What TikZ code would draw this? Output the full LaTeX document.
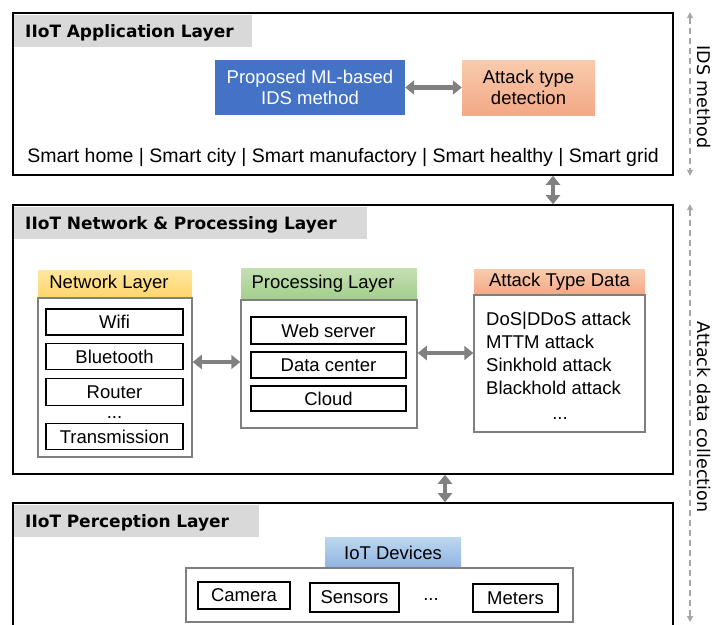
\documentclass[tikz,border=0pt]{standalone}
\usepackage{fontspec}
\setmainfont{Liberation Sans}
\newfontfamily\dejavu{DejaVu Sans}
\usetikzlibrary{arrows.meta}
\definecolor{lblgray}{HTML}{D9D9D9}
\definecolor{arrgray}{HTML}{808080}
\definecolor{dashgray}{HTML}{A6A6A6}
\definecolor{colgray}{HTML}{7F7F7F}
\definecolor{idsblue}{HTML}{4472C4}
\definecolor{salmontop}{HTML}{F8CBAD}
\definecolor{salmonbot}{HTML}{F4A886}
\definecolor{yeltop}{HTML}{FFE6A0}
\definecolor{yelbot}{HTML}{FFD56A}
\definecolor{grntop}{HTML}{C5E0B4}
\definecolor{grnbot}{HTML}{A2CD8A}
\definecolor{bluetop}{HTML}{BDD7EE}
\definecolor{bluebot}{HTML}{8FB4E3}
\tikzset{
  txt/.style={font=\fontsize{18.5}{21}\selectfont},
  layerbox/.style={draw=black, line width=1.6pt, inner sep=0pt},
  layerlbl/.style={fill=lblgray, anchor=north west, inner sep=0pt, text depth=0pt,
    font=\dejavu\fontsize{17}{20}\selectfont\bfseries, align=left, minimum height=32pt},
  colbody/.style={draw=colgray, line width=1.5pt, fill=white, inner sep=0pt},
  colhead/.style={inner sep=0pt, txt},
  itembox/.style={draw=black, line width=1.8pt, fill=white, inner sep=0pt, txt},
  bigarrow/.style={draw=arrgray, line width=4.5pt,
    {Triangle[length=9pt,width=14pt]}-{Triangle[length=9pt,width=14pt]}},
  dasharrow/.style={draw=dashgray, line width=1.3pt, dash pattern=on 6pt off 4pt,
    {Triangle[length=6pt,width=6pt]}-{Triangle[length=6pt,width=6pt]}},
  sidelbl/.style={font=\dejavu\fontsize{17.5}{20}\selectfont, rotate=-90, inner sep=0pt},
  dots/.style={txt, inner sep=0pt, anchor=base},
}
\begin{document}
\begin{tikzpicture}[x=1pt,y=-1pt]
\clip (0,0) rectangle (714,624);
\fill[white] (0,0) rectangle (714,624);

% ---------- Application layer
\node[layerbox, minimum width=660pt, minimum height=162pt] (app) at (343,94) {};
\node[layerlbl, minimum width=238pt, text width=232pt] (applbl) at (14,15) {\hspace*{8pt}IIoT Application Layer};
\node[fill=idsblue, text=white, txt, align=center, minimum width=190pt, minimum height=55pt, inner sep=0pt] (ids) at (310,87.5) {Proposed ML-based\\IDS method};
\node[top color=salmontop, bottom color=salmonbot, txt, align=center, minimum width=133pt, minimum height=55pt, inner sep=0pt] (atd) at (528.5,87.5) {Attack type\\detection};
\draw[bigarrow] (ids.east) -- (atd.west);
\node[txt, font=\fontsize{19.5}{22}\selectfont] (smart) at (343,157) {Smart home | Smart city | Smart manufactory | Smart healthy | Smart grid};

% ---------- Network & processing layer
\node[layerbox, minimum width=660pt, minimum height=269pt] (net) at (343,339.5) {};
\node[layerlbl, minimum width=353pt, text width=347pt] (netlbl) at (14,207) {\hspace*{8pt}IIoT Network \& Processing Layer};

\coordinate (c1) at (553,190);
\draw[bigarrow] (app.south -| c1) -- (net.north -| c1);

% Network layer column
\node[top color=yeltop, bottom color=yelbot, colhead, minimum width=154pt, minimum height=28pt] (nlh) at (115,284) {\hspace*{-12pt}Network Layer};
\node[colbody, minimum width=154pt, minimum height=159pt] (nlb) at (115,377.5) {};
\node[itembox, minimum width=137pt, minimum height=26pt] (wifi) at (114.5,322) {Wifi};
\node[itembox, minimum width=137pt, minimum height=26pt] (bt) at (114.5,356.5) {Bluetooth};
\node[itembox, minimum width=137pt, minimum height=27pt] (router) at (114.5,392) {Router};
\node[dots] (ndots) at (114.5,418) {...};
\node[itembox, minimum width=137pt, minimum height=26pt] (trans) at (114.5,436.5) {Transmission};

% Processing layer column
\node[top color=grntop, bottom color=grnbot, colhead, minimum width=176pt, minimum height=32pt] (plh) at (329,284) {\hspace*{-12pt}Processing Layer};
\node[colbody, minimum width=176pt, minimum height=128pt] (plb) at (329,364) {};
\node[itembox, minimum width=155pt, minimum height=27pt] (web) at (328.5,330.5) {Web server};
\node[itembox, minimum width=155pt, minimum height=26pt] (dc) at (328.5,365) {Data center};
\node[itembox, minimum width=155pt, minimum height=25pt] (cloud) at (328.5,398.5) {Cloud};

% Attack type data column
\node[top color=salmontop, bottom color=salmonbot, colhead, minimum width=171pt, minimum height=26pt] (ath) at (559.5,282) {Attack Type Data};
\node[colbody, minimum width=171pt, minimum height=137pt] (atb) at (559.5,363.5) {};
\node[align=left, anchor=west, inner sep=0pt, font=\fontsize{18.5}{23}\selectfont] (attxt) at (486,353.5) {DoS|DDoS attack\\MTTM attack\\Sinkhold attack\\Blackhold attack};
\node[dots] (adots) at (560,419) {...};

\coordinate (c2) at (200,362);
\coordinate (c3) at (430,353);
\draw[bigarrow] (nlb.east |- c2) -- (plb.west |- c2);
\draw[bigarrow] (plb.east |- c3) -- (atb.west |- c3);

% ---------- Perception layer
\node[layerbox, minimum width=660pt, minimum height=160pt] (per) at (343,583) {};
\node[layerlbl, minimum width=245pt, text width=239pt] (perlbl) at (14,505) {\hspace*{8pt}IIoT Perception Layer};
\coordinate (c4) at (445,490);
\draw[bigarrow] (net.south -| c4) -- (per.north -| c4);

\node[top color=bluetop, bottom color=bluebot, colhead, minimum width=136pt, minimum height=31pt] (ioth) at (393,552.5) {IoT Devices};
\node[colbody, minimum width=387pt, minimum height=54pt] (iotb) at (379.5,595) {};
\node[itembox, minimum width=92pt, minimum height=27pt] (cam) at (244,595.5) {Camera};
\node[itembox, minimum width=89pt, minimum height=29pt] (sens) at (354.5,597.5) {Sensors};
\node[dots] (idots) at (431,600) {...};
\node[itembox, minimum width=85pt, minimum height=28pt] (met) at (515.5,598) {Meters};

% ---------- Right side dashed arrows
\coordinate (r1) at (690,0);
\draw[dasharrow] (app.north -| r1) -- (app.south -| r1);
\node[sidelbl] (idslbl) at (704,97) {IDS method};
\coordinate (r2) at (690,622);
\draw[dasharrow] (net.north -| r1) -- (r2);
\node[sidelbl] (adclbl) at (704,417) {Attack data collection};
\end{tikzpicture}
\end{document}
